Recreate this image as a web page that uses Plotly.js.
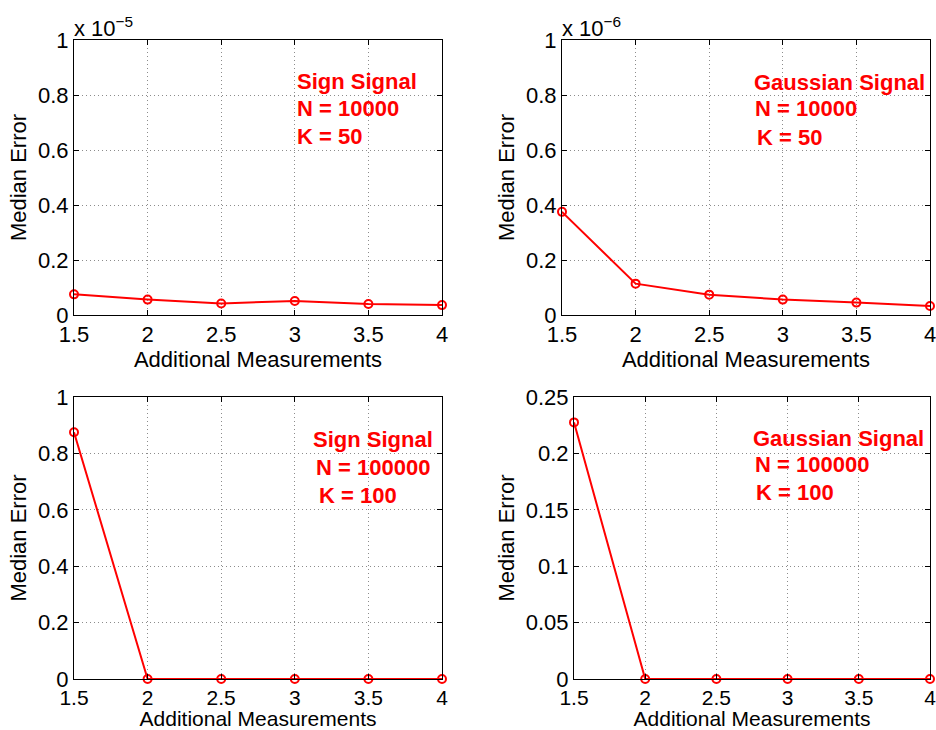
<!DOCTYPE html>
<html>
<head>
<meta charset="utf-8">
<script src="https://cdn.plot.ly/plotly-3.0.1.min.js"></script>
<style>html,body{margin:0;padding:0;background:#fff;}#chart{width:936px;height:730px;}</style>
</head>
<body>
<div id="chart"></div>
<script>
// ---- data ----
const additionalMeasurements = [1.5, 2, 2.5, 3, 3.5, 4];
// Sign signal, N = 10000, K = 50 (units of 1e-5)
const signN10000 = [0.075, 0.056, 0.042, 0.051, 0.040, 0.036];
// Gaussian signal, N = 10000, K = 50 (units of 1e-6)
const gaussN10000 = [0.375, 0.114, 0.074, 0.056, 0.045, 0.033];
// Sign signal, N = 100000, K = 100
const signN100000 = [0.875, 0, 0, 0, 0, 0];
// Gaussian signal, N = 100000, K = 100
const gaussN100000 = [0.2275, 0, 0, 0, 0, 0];

const xTicks = [1.5, 2, 2.5, 3, 3.5, 4];
const yTicksUnit = [0, 0.2, 0.4, 0.6, 0.8, 1];
const yTicksSmall = [0, 0.05, 0.1, 0.15, 0.2, 0.25];
const exponentLabels = ['x 10<sup>\u22125</sup>', 'x 10<sup>\u22126</sup>'];
const panelLines = [
  ['Sign Signal', 'N = 10000', 'K = 50'],
  ['Gaussian Signal', 'N = 10000', 'K = 50'],
  ['Sign Signal', 'N = 100000', 'K = 100'],
  ['Gaussian Signal', 'N = 100000', 'K = 100']
];

// ---- styling ----
const FONT = 'Liberation Sans, Arial, Helvetica, sans-serif';
const RED = '#ff0000';

function trace(y, i) {
  const s = i === 0 ? '' : String(i + 1);
  return {
    x: additionalMeasurements, y: y, type: 'scatter', mode: 'lines+markers',
    xaxis: 'x' + s, yaxis: 'y' + s, cliponaxis: false,
    line: {color: RED, width: 2},
    marker: {symbol: 'circle-open', size: 8, color: RED, line: {width: 2, color: RED}},
    showlegend: false, hoverinfo: 'x+y'
  };
}

function xAxis(domain, anchor, fs) {
  return {
    domain: domain, anchor: anchor, range: [1.5, 4], tickvals: xTicks,
    ticks: 'inside', ticklen: 5, tickcolor: '#000', tickwidth: 1,
    showline: true, linecolor: '#000', linewidth: 1, mirror: 'ticks',
    showgrid: true, gridcolor: '#8c8c8c', griddash: '1px,3px', gridwidth: 1,
    zeroline: false, automargin: false, ticklabeloverflow: 'allow',
    tickfont: {family: FONT, size: fs, color: '#000'},
    title: {text: 'Additional Measurements', font: {family: FONT, size: fs, color: '#000'}, standoff: 0}
  };
}
function yAxis(domain, anchor, range, ticks) {
  return {
    domain: domain, anchor: anchor, range: range, tickvals: ticks,
    ticks: 'inside', ticklen: 5, tickcolor: '#000', tickwidth: 1,
    showline: true, linecolor: '#000', linewidth: 1, mirror: 'ticks',
    showgrid: true, gridcolor: '#8c8c8c', griddash: '1px,3px', gridwidth: 1,
    zeroline: false, automargin: false, ticklabeloverflow: 'allow',
    tickfont: {family: FONT, size: 22, color: '#000'},
    title: {text: 'Median Error', font: {family: FONT, size: 22, color: '#000'}, standoff: 5}
  };
}

const xdomL = [74/936, 442/936], xdomR1 = [562/936, 930/936], xdomR2 = [574/936, 930/936];
const ydomT = [1 - 315/730, 1 - 40/730], ydomB = [1 - 679/730, 1 - 397/730];

const data = [
  trace(signN10000, 0), trace(gaussN10000, 1), trace(signN100000, 2), trace(gaussN100000, 3)
];

// text positions (data coords) for each panel
const textPos = [
  {x: [3.0, 3.0, 3.0], y: [0.85, 0.75, 0.65]},
  {x: [2.79, 2.8, 2.81], y: [0.845, 0.75, 0.645]},
  {x: [3.11, 3.13, 3.15], y: [0.848, 0.751, 0.649]},
  {x: [2.74, 2.755, 2.765], y: [0.2135, 0.190, 0.165]}
];
const annotations = [];
panelLines.forEach((lines, p) => {
  const s = p === 0 ? '' : String(p + 1);
  lines.forEach((t, k) => {
    annotations.push({
      xref: 'x' + s, yref: 'y' + s, x: textPos[p].x[k], y: textPos[p].y[k],
      text: '<b>' + t + '</b>', showarrow: false, xanchor: 'left', yanchor: 'middle',
      font: {family: FONT, size: 22, color: RED}
    });
  });
});
annotations.push({xref: 'paper', yref: 'paper', x: 74/936, y: 1 - 40/730, xanchor: 'left', yanchor: 'bottom',
  text: exponentLabels[0], showarrow: false, font: {family: FONT, size: 22, color: '#000'}, yshift: -3, xshift: -2});
annotations.push({xref: 'paper', yref: 'paper', x: 562/936, y: 1 - 40/730, xanchor: 'left', yanchor: 'bottom',
  text: exponentLabels[1], showarrow: false, font: {family: FONT, size: 22, color: '#000'}, yshift: -3, xshift: -2});

const layout = {
  width: 936, height: 730,
  margin: {l: 0, r: 0, t: 0, b: 0},
  paper_bgcolor: '#fff', plot_bgcolor: '#fff',
  font: {family: FONT, size: 22, color: '#000'},
  xaxis: xAxis(xdomL, 'y', 22), yaxis: yAxis(ydomT, 'x', [0, 1], yTicksUnit),
  xaxis2: xAxis(xdomR1, 'y2', 22), yaxis2: yAxis(ydomT, 'x2', [0, 1], yTicksUnit),
  xaxis3: xAxis(xdomL, 'y3', 21), yaxis3: yAxis(ydomB, 'x3', [0, 1], yTicksUnit),
  xaxis4: xAxis(xdomR2, 'y4', 21), yaxis4: yAxis(ydomB, 'x4', [0, 0.25], yTicksSmall),
  annotations: annotations,
  showlegend: false
};

Plotly.newPlot('chart', data, layout, {displayModeBar: false, staticPlot: true});
</script>
</body>
</html>
